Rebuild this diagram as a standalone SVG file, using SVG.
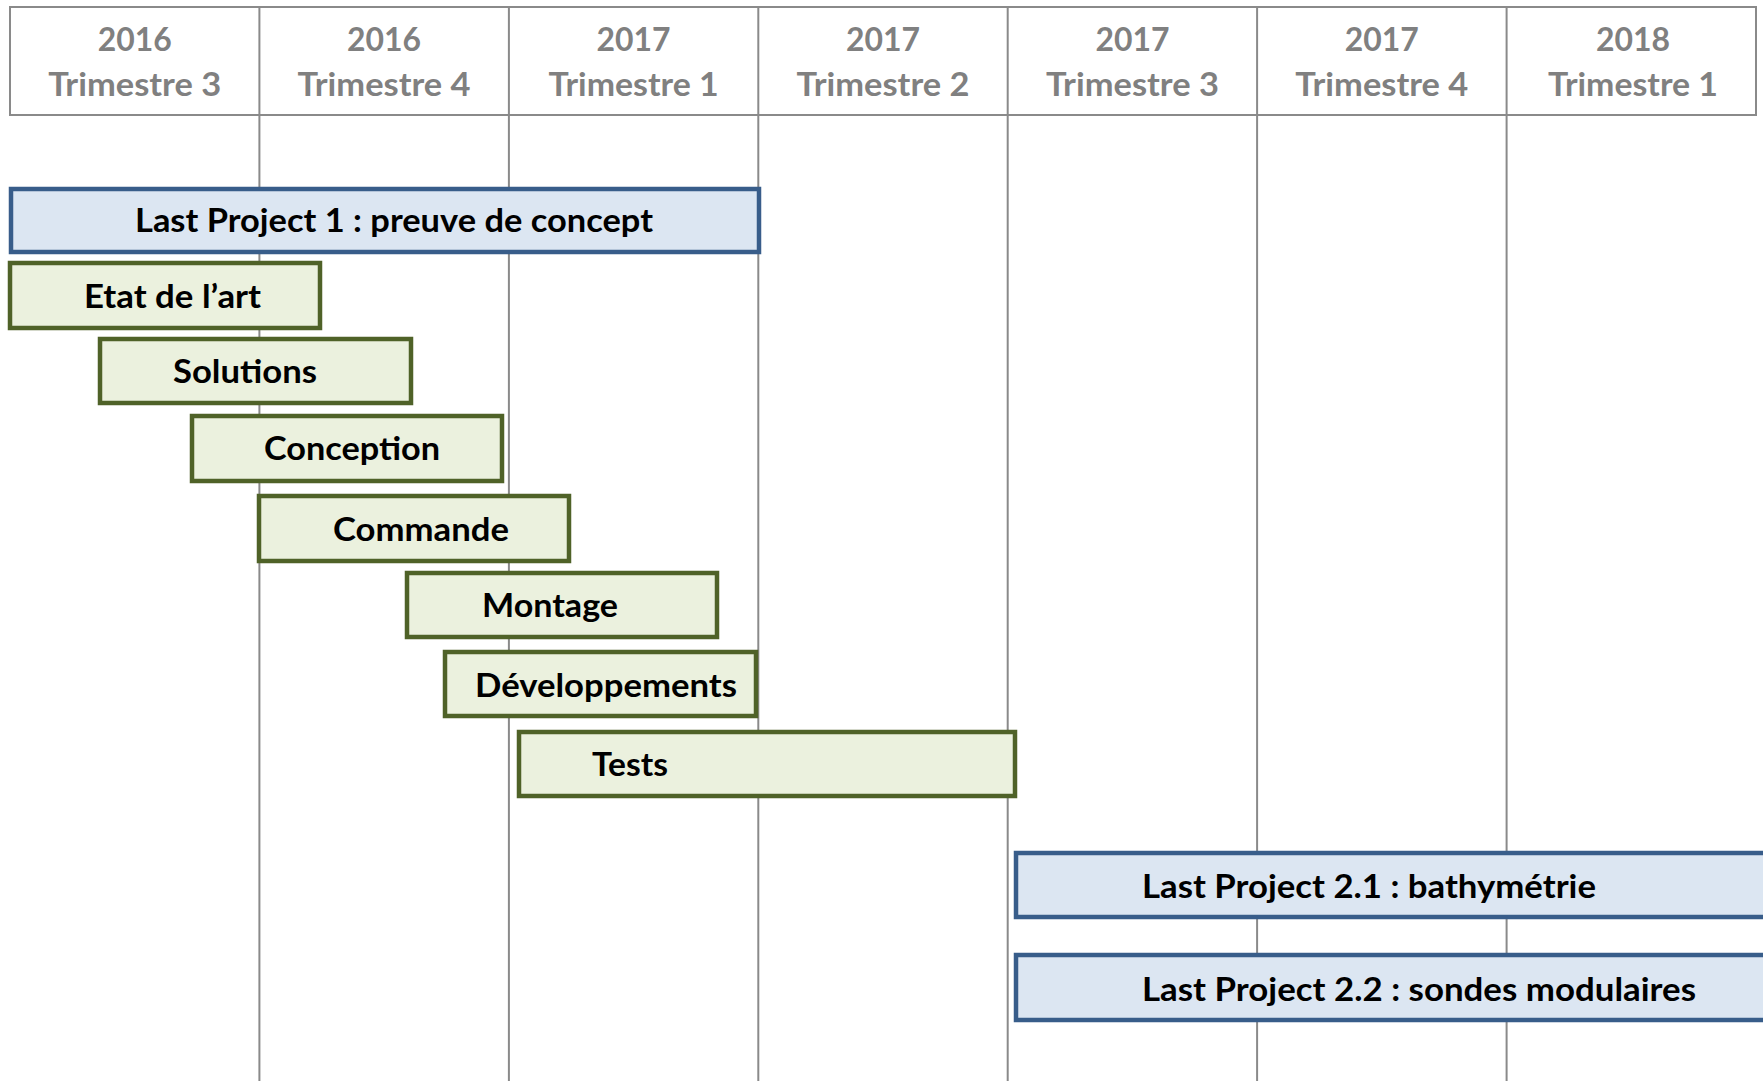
<svg xmlns="http://www.w3.org/2000/svg" width="1763" height="1081" viewBox="0 0 1763 1081">
<style>
.grid{stroke:#8a8a8a;stroke-width:2;fill:none}
.hdr{font-family:"Lato","Liberation Sans",sans-serif;font-weight:bold;font-size:33px;fill:#808080;text-anchor:middle}
.task{fill:#ebf1de;stroke:#4f6228;stroke-width:4.5}
.proj{fill:#dce6f2;stroke:#385d8a;stroke-width:4.5}
.lbl{font-family:"Lato","Liberation Sans",sans-serif;font-weight:bold;font-size:33px;fill:#000}
</style>
<rect x="0" y="0" width="1763" height="1081" fill="#ffffff"/>
<g id="grid">
<rect class="grid" x="10" y="7" width="1746" height="108"/>
<line class="grid" x1="259.4" y1="7" x2="259.4" y2="1081"/>
<line class="grid" x1="508.9" y1="7" x2="508.9" y2="1081"/>
<line class="grid" x1="758.3" y1="7" x2="758.3" y2="1081"/>
<line class="grid" x1="1007.7" y1="7" x2="1007.7" y2="1081"/>
<line class="grid" x1="1257.1" y1="7" x2="1257.1" y2="1081"/>
<line class="grid" x1="1506.6" y1="7" x2="1506.6" y2="1081"/>
</g>
<g id="header">
<text class="hdr" x="134.7" y="51" textLength="74" lengthAdjust="spacingAndGlyphs">2016</text>
<text class="hdr" x="134.7" y="96" textLength="173" lengthAdjust="spacingAndGlyphs">Trimestre 3</text>
<text class="hdr" x="384.1" y="51" textLength="74" lengthAdjust="spacingAndGlyphs">2016</text>
<text class="hdr" x="384.1" y="96" textLength="173" lengthAdjust="spacingAndGlyphs">Trimestre 4</text>
<text class="hdr" x="633.6" y="51" textLength="74" lengthAdjust="spacingAndGlyphs">2017</text>
<text class="hdr" x="633.6" y="96" textLength="170" lengthAdjust="spacingAndGlyphs">Trimestre 1</text>
<text class="hdr" x="883" y="51" textLength="74" lengthAdjust="spacingAndGlyphs">2017</text>
<text class="hdr" x="883" y="96" textLength="173" lengthAdjust="spacingAndGlyphs">Trimestre 2</text>
<text class="hdr" x="1132.4" y="51" textLength="74" lengthAdjust="spacingAndGlyphs">2017</text>
<text class="hdr" x="1132.4" y="96" textLength="173" lengthAdjust="spacingAndGlyphs">Trimestre 3</text>
<text class="hdr" x="1381.8" y="51" textLength="74" lengthAdjust="spacingAndGlyphs">2017</text>
<text class="hdr" x="1381.8" y="96" textLength="173" lengthAdjust="spacingAndGlyphs">Trimestre 4</text>
<text class="hdr" x="1633" y="51" textLength="74" lengthAdjust="spacingAndGlyphs">2018</text>
<text class="hdr" x="1633" y="96" textLength="170" lengthAdjust="spacingAndGlyphs">Trimestre 1</text>
</g>
<g id="connectors"></g>
<g id="proj1">
<rect class="proj" x="11" y="189" width="748" height="63"/>
<text class="lbl" x="135" y="232" textLength="518" lengthAdjust="spacingAndGlyphs">Last Project 1 : preuve de concept</text>
</g>
<g id="etat">
<rect class="task" x="10" y="263" width="310" height="65"/>
<text class="lbl" x="84" y="308" textLength="177" lengthAdjust="spacingAndGlyphs">Etat de l’art</text>
</g>
<g id="solutions">
<rect class="task" x="100" y="339" width="311" height="64"/>
<text class="lbl" x="173" y="383" textLength="144" lengthAdjust="spacingAndGlyphs">Solutions</text>
</g>
<g id="conception">
<rect class="task" x="192" y="416" width="310" height="65"/>
<text class="lbl" x="264" y="460" textLength="176" lengthAdjust="spacingAndGlyphs">Conception</text>
</g>
<g id="commande">
<rect class="task" x="259" y="496" width="310" height="65"/>
<text class="lbl" x="333" y="541" textLength="176" lengthAdjust="spacingAndGlyphs">Commande</text>
</g>
<g id="montage">
<rect class="task" x="407" y="573" width="310" height="64"/>
<text class="lbl" x="482" y="617" textLength="136" lengthAdjust="spacingAndGlyphs">Montage</text>
</g>
<g id="developpements">
<rect class="task" x="445" y="652" width="311" height="64"/>
<text class="lbl" x="475" y="697" textLength="262" lengthAdjust="spacingAndGlyphs">Développements</text>
</g>
<g id="tests">
<rect class="task" x="519" y="732" width="496" height="64"/>
<text class="lbl" x="592" y="776" textLength="76" lengthAdjust="spacingAndGlyphs">Tests</text>
</g>
<g id="proj21">
<rect class="proj" x="1016" y="853" width="760" height="64"/>
<text class="lbl" x="1142" y="898" textLength="454" lengthAdjust="spacingAndGlyphs">Last Project 2.1 : bathymétrie</text>
</g>
<g id="proj22">
<rect class="proj" x="1016" y="955" width="760" height="65"/>
<text class="lbl" x="1142" y="1001" textLength="554" lengthAdjust="spacingAndGlyphs">Last Project 2.2 : sondes modulaires</text>
</g>
</svg>
